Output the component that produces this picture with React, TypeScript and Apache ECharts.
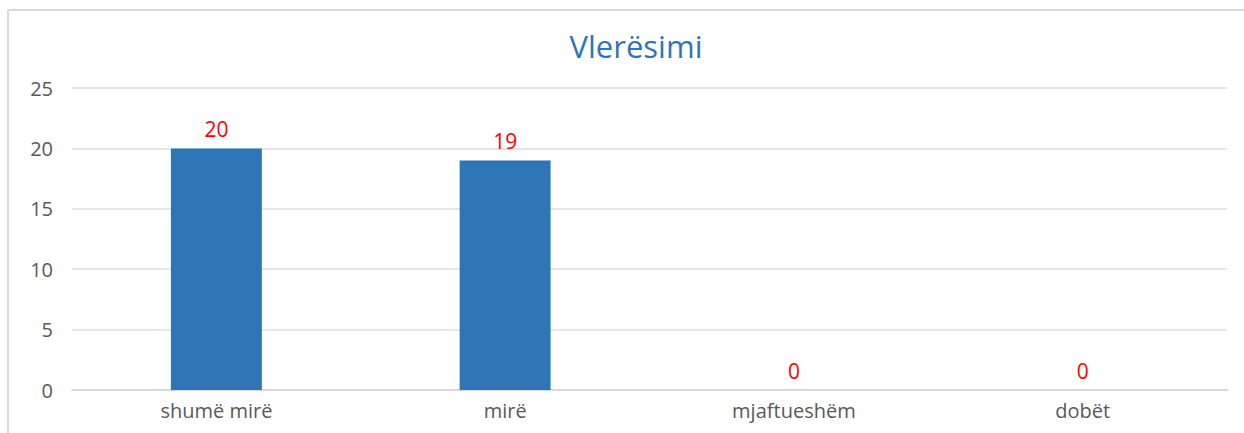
import React, { useEffect, useRef } from "react";
import * as echarts from "echarts";

const categories = ["shumë mirë", "mirë", "mjaftueshëm", "dobët"];
const values = [20, 19, 0, 0];
const yTicks = { min: 0, max: 25, interval: 5 };
const title = "Vlerësimi";

export default function App() {
  const ref = useRef<HTMLDivElement>(null);
  useEffect(() => {
    const chart = echarts.init(ref.current!, null, { renderer: "svg" });
    chart.setOption({
      animation: false,
      backgroundColor: "#ffffff",
      textStyle: { fontFamily: "Open Sans" },
      title: {
        text: title,
        left: 631,
        top: 25,
        textAlign: "center",
        textStyle: { color: "#2e75b6", fontSize: 31, fontWeight: "normal", fontFamily: "Open Sans" },
      },
      graphic: [
        { type: "line", shape: { x1: 8, y1: 10, x2: 1244, y2: 10 }, style: { stroke: "#d9d9d9", lineWidth: 2 } },
        { type: "line", shape: { x1: 8, y1: 10, x2: 8, y2: 433 }, style: { stroke: "#d9d9d9", lineWidth: 2 } },
      ],
      grid: { left: 72, right: 17, top: 88, bottom: 43, containLabel: false },
      xAxis: {
        type: "category",
        data: categories,
        axisLine: { show: true, lineStyle: { color: "#d9d9d9", width: 2 } },
        axisTick: { show: false },
        axisLabel: { color: "#595959", fontSize: 20, margin: 10, fontFamily: "Open Sans" },
      },
      yAxis: {
        type: "value",
        min: yTicks.min,
        max: yTicks.max,
        interval: yTicks.interval,
        axisLine: { show: false },
        axisTick: { show: false },
        splitLine: { lineStyle: { color: "#e6e6e6", width: 2 } },
        axisLabel: { color: "#595959", fontSize: 20, margin: 19, fontFamily: "Open Sans" },
      },
      series: [
        {
          type: "bar",
          data: values,
          barWidth: "31.5%",
          itemStyle: { color: "#2e75b6" },
          label: {
            show: true,
            position: "top",
            distance: 9,
            color: "#ff0000",
            fontSize: 21,
            fontFamily: "Open Sans",
          },
        },
      ],
    });
    return () => chart.dispose();
  }, []);
  return (
    <div
      ref={ref}
      style={{ position: "fixed", left: 0, top: 0, width: 1244, height: 433 }}
    />
  );
}
